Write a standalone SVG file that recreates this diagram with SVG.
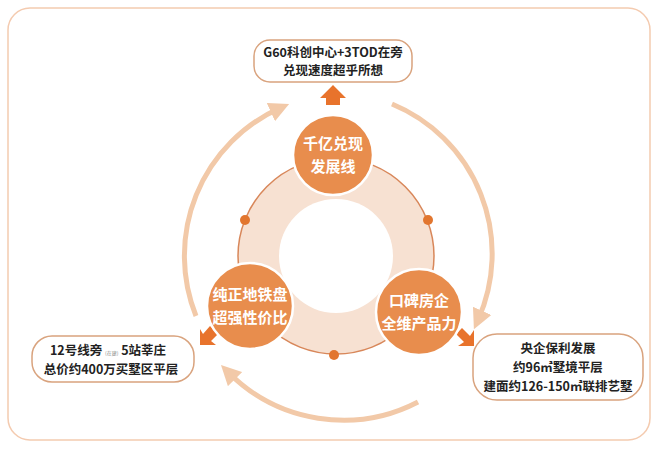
<svg xmlns="http://www.w3.org/2000/svg" width="660" height="450" viewBox="0 0 660 450">
<style>
.box{fill:#fff;stroke:#d9a37e;stroke-width:1.5}
.bt{font-family:"Noto Sans CJK SC",sans-serif;font-size:12.5px;font-weight:bold;fill:#222;text-anchor:middle}
.nt{font-family:"Noto Sans CJK SC",sans-serif;font-size:15px;font-weight:bold;fill:#fff;text-anchor:middle}
.node{fill:#e88d4d;stroke:#fff;stroke-width:2.5}
.arc{fill:none;stroke:#f2c9a8;stroke-width:5}
.dot{fill:#e2762f}
.ar{fill:#e8732c}
</style>
<defs>
<marker id="ah" viewBox="0 0 10 10" refX="5" refY="5" markerWidth="4" markerHeight="4" orient="auto"><path d="M0,0L10,5L0,10z" fill="#f2c9a8"/></marker>
</defs>
<rect x="8" y="8" width="642" height="432" rx="22" fill="#fff" stroke="#f4cbb0" stroke-width="1.5"/>
<g id="connectors">
<path class="arc" d="M196,316 A162,162 0 0 1 280,108" marker-end="url(#ah)"/>
<path class="arc" d="M392,104 A162,162 0 0 1 478,320" marker-end="url(#ah)"/>
<path class="arc" d="M418,402 A162,162 0 0 1 228,372" marker-end="url(#ah)"/>
<path class="ar" d="M326,105 L326,98 L320,98 L333,85 L346,98 L340,98 L340,105z"/>
<path class="ar" d="M462,328 L470,336 L474,330 L474,346 L458,346 L464,342 L456,334z"/>
<path class="ar" d="M210,326 L203,334 L200,329 L200,345 L216,345 L211,341 L218,334z"/>
</g>
<g id="ring">
<circle cx="336" cy="256" r="98" fill="#f7e1d2" stroke="#d8875a" stroke-width="1.5"/>
<circle cx="336" cy="256" r="57" fill="#fff"/>
<circle class="dot" cx="245" cy="220" r="5"/>
<circle class="dot" cx="428" cy="220" r="5"/>
<circle class="dot" cx="334" cy="355" r="5"/>
</g>
<g id="n-top"><circle class="node" cx="333" cy="155" r="40"/><text class="nt" x="333" y="149">千亿兑现</text><text class="nt" x="333" y="172">发展线</text></g>
<g id="n-left"><circle class="node" cx="250" cy="306" r="43"/><text class="nt" x="250" y="300">纯正地铁盘</text><text class="nt" x="250" y="323">超强性价比</text></g>
<g id="n-right"><circle class="node" cx="419" cy="312" r="43"/><text class="nt" x="419" y="306">口碑房企</text><text class="nt" x="419" y="329">全维产品力</text></g>
<g id="b-top"><rect class="box" x="254" y="40" width="158" height="42" rx="16"/><text class="bt" x="333" y="57">G60科创中心+3TOD在旁</text><text class="bt" x="333" y="75">兑现速度超乎所想</text></g>
<g id="b-left"><rect class="box" x="32" y="336" width="162" height="46" rx="20"/><text class="bt" x="108" y="355">12号线旁 <tspan font-size="5" font-weight="normal" fill="#888">(在建)</tspan> 5站莘庄</text><text class="bt" x="111" y="374">总价约400万买墅区平层</text></g>
<g id="b-right"><rect class="box" x="473" y="334" width="170" height="66" rx="24"/><text class="bt" x="558" y="353">央企保利发展</text><text class="bt" x="558" y="372">约96㎡墅境平层</text><text class="bt" x="558" y="391">建面约126-150㎡联排艺墅</text></g>
</svg>
